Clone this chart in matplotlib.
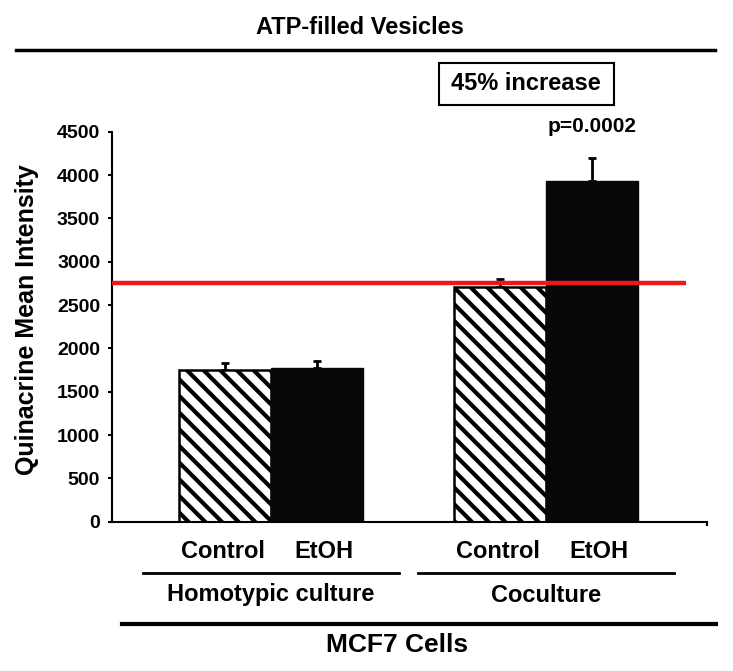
import matplotlib
matplotlib.use("Agg")
import matplotlib.pyplot as plt
import matplotlib.transforms as mtransforms
from matplotlib.lines import Line2D
from matplotlib.patches import Rectangle

# data
groups = ["Homotypic culture", "Coculture"]
conditions = ["Control", "EtOH"]
means = [[1745, 1770], [2710, 3935]]   # [group][condition]
errs = [[85, 80], [95, 265]]
ref_level = 2750
y_ticks = [0, 500, 1000, 1500, 2000, 2500, 3000, 3500, 4000, 4500]

plt.rcParams['font.family'] = ['Liberation Sans', 'DejaVu Sans']
plt.rcParams['font.weight'] = 'bold'
plt.rcParams['hatch.linewidth'] = 3.0

W, H = 733, 671
fig = plt.figure(figsize=(W / 100, H / 100), dpi=100)

def fx(px):
    return px / W

def fy(py):
    return 1 - py / H

ax = fig.add_axes([fx(112), fy(521.7), fx(707) - fx(112), fy(131.7) - fy(521.7)])

width = 0.333
centers = [0, 1]
bar_x = []
for gi, c in enumerate(centers):
    for ci in range(2):
        x = c + (ci - 0.5) * width
        bar_x.append(x)
        if ci == 0:
            ax.bar(x, means[gi][ci], width, color="white", edgecolor="black",
                   hatch="\\\\", linewidth=1.8, zorder=2)
        else:
            ax.bar(x, means[gi][ci], width, color="#070707", edgecolor="#070707",
                   linewidth=1, zorder=2)
        ax.errorbar(x, means[gi][ci], yerr=[[0], [errs[gi][ci]]], fmt="none",
                    ecolor="black", elinewidth=2, capsize=3, capthick=2, zorder=1)

ax.plot([-0.578, 1.51], [ref_level, ref_level], color="#e8191a", linewidth=3.2,
        solid_capstyle="butt", zorder=3, clip_on=False)

ax.set_xlim(-0.578, 1.585)
ax.set_ylim(0, 4500)
ax.set_yticks(y_ticks)
ax.set_yticklabels([str(t) for t in y_ticks], fontsize=14, fontweight="bold")
ax.set_xticks([1.585])
ax.set_xticklabels([""])
ax.tick_params(axis="both", direction="out", length=3, width=1.5, pad=5.5)
for s in ["top", "right"]:
    ax.spines[s].set_visible(False)
for s in ["left", "bottom"]:
    ax.spines[s].set_linewidth(1.5)

bt = mtransforms.blended_transform_factory(ax.transData, fig.transFigure)

# condition labels under bars
for gi in range(2):
    for ci in range(2):
        x = bar_x[gi * 2 + ci] + (0.025 if ci == 1 else -0.01)
        ax.text(x, fy(552), conditions[ci], transform=bt, ha="center", va="center",
                fontsize=17, fontweight="bold")

# group underlines and labels
for gi, c in enumerate(centers):
    fig.add_artist(Line2D([c - 0.465, c + 0.465], [fy(572.7), fy(572.7)],
                          transform=bt, color="black", linewidth=2))
    ax.text(c, fy(595), groups[gi], transform=bt, ha="center", va="center",
            fontsize=17, fontweight="bold")

# bottom header
fig.add_artist(Line2D([fx(122), fx(716)], [fy(624), fy(624)], color="black", linewidth=3))
fig.text(fx(397), fy(645), "MCF7 Cells", ha="center", va="center",
         fontsize=19, fontweight="bold")

# top header
fig.text(fx(360), fy(27), "ATP-filled Vesicles", ha="center", va="center",
         fontsize=17, fontweight="bold")
fig.add_artist(Line2D([fx(16), fx(715)], [fy(50), fy(50)], color="black", linewidth=2.5))

# increase box
fig.add_artist(Rectangle((fx(439), fy(105)), fx(614) - fx(439), fy(63) - fy(105),
                         transform=fig.transFigure, fill=False, edgecolor="black",
                         linewidth=1.5))
fig.text(fx(526), fy(84), "45% increase", ha="center", va="center",
         fontsize=17, fontweight="bold")

ax.text(bar_x[3], fy(127), "p=0.0002", transform=bt, ha="center", va="center",
        fontsize=15, fontweight="bold")

fig.text(fx(27), fy(320), "Quinacrine Mean Intensity", rotation=90,
         ha="center", va="center", fontsize=18, fontweight="bold")

fig.savefig("out.png", dpi=100)
